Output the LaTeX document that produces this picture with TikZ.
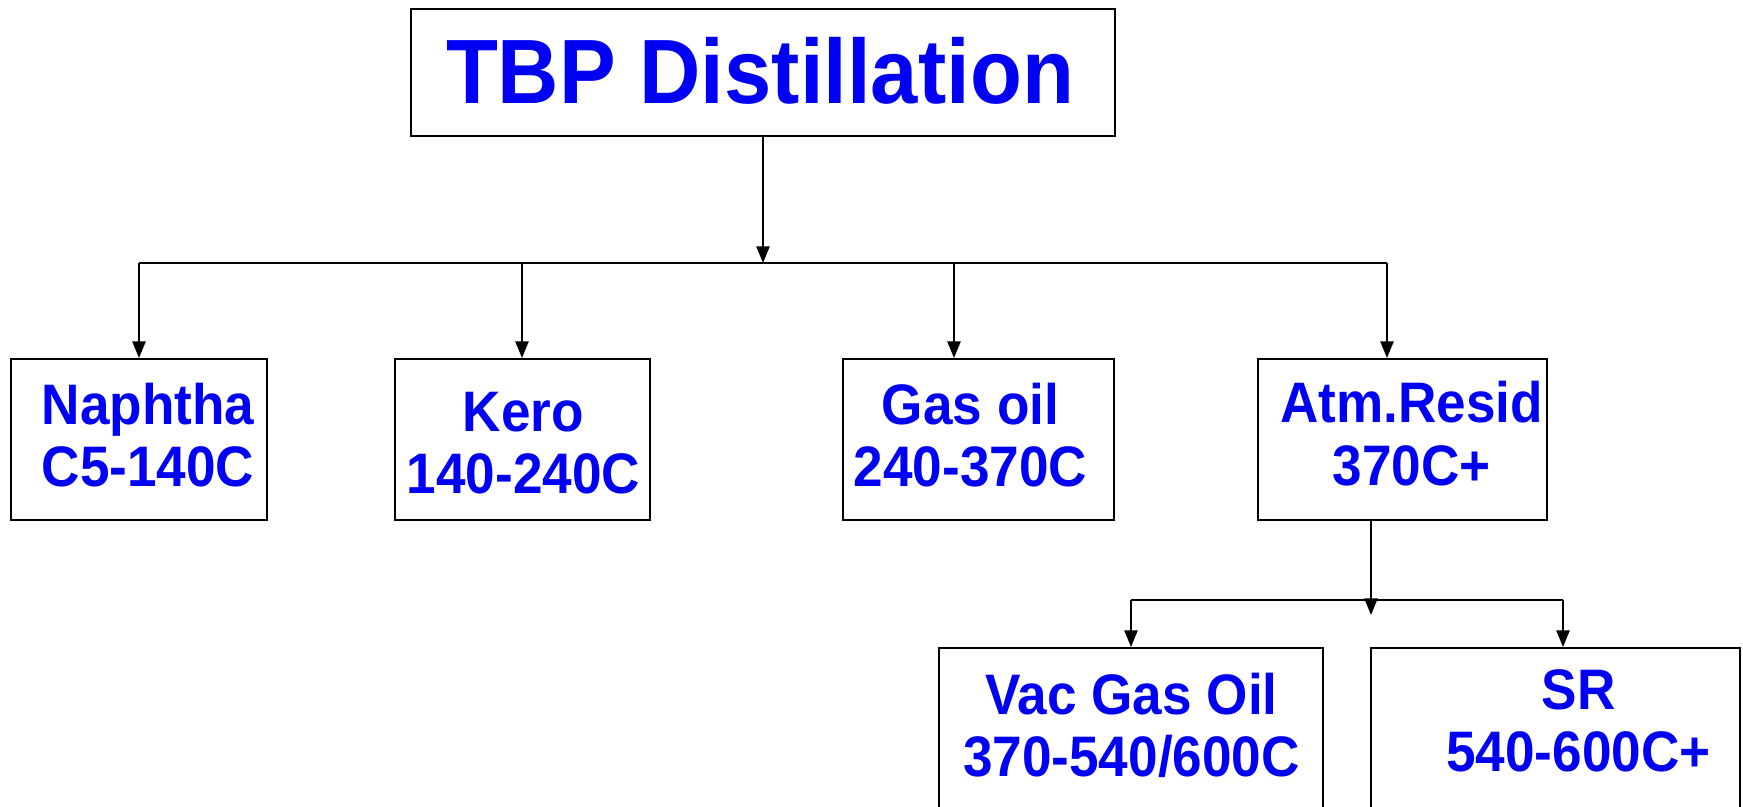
\documentclass[tikz,border=0pt]{standalone}
\usepackage{fontspec}
\setmainfont{Liberation Sans}
\newfontfamily\tbpfont[FakeStretch=0.93]{Liberation Sans}
\usepackage{tikz}
\usetikzlibrary{arrows.meta,positioning}
\definecolor{tbpblue}{RGB}{0,0,245}

\begin{document}
\begin{tikzpicture}[
  box/.style={draw,line width=1.1pt,inner sep=0pt},
  title/.style={text=tbpblue,font=\tbpfont\bfseries\fontsize{52}{60}\selectfont},
  cut/.style={text=tbpblue,align=center,font=\tbpfont\bfseries\fontsize{32.5}{35.5}\selectfont},
  link/.style={line width=1.1pt},
  arr/.style={-{Triangle[length=9.5pt,width=7.5pt]},line width=1.1pt},
]
\clip (0,0) rectangle (34.86,-16.14);

% 原油
\node[box,minimum width=14.08cm,minimum height=2.54cm] (tbp) at (15.26,-1.45) {};
\node[title] (tbptxt) at (15.2,-1.42) {TBP Distillation};

% 常压馏分
\node[box,minimum width=5.12cm,minimum height=3.22cm] (naph) at (2.78,-8.79) {};
\node[box,minimum width=5.10cm,minimum height=3.22cm] (kero) at (10.45,-8.79) {};
\node[box,minimum width=5.42cm,minimum height=3.22cm] (gas) at (19.57,-8.79) {};
\node[box,minimum width=5.78cm,minimum height=3.22cm] (atm) at (28.05,-8.79) {};
\node[cut] (naphtxt) at (2.96,-8.70) {Naphtha\\C5-140C};
\node[cut] (kerotxt) at (10.47,-8.86) {Kero\\140-240C};
\node[cut] (gastxt) at (19.41,-8.70) {Gas oil\\240-370C};
\node[cut] (atmtxt) at (28.23,-8.67) {Atm.Resid\\370C+};

% 减压馏分
\node[box,minimum width=7.68cm,minimum height=4cm] (vac) at (22.62,-14.96) {};
\node[box,minimum width=7.38cm,minimum height=4cm] (sr) at (31.11,-14.96) {};
\node[cut] (vactxt) at (22.63,-14.51) {Vac Gas Oil\\370-540/600C};
\node[cut] (srtxt) at (31.57,-14.42) {SR\\540-600C+};

% 箭头
\coordinate (bus) at (15.26,-5.26);
\coordinate (b1) at (2.78,-5.26);
\coordinate (b2) at (10.44,-5.26);
\coordinate (b3) at (19.08,-5.26);
\coordinate (b4) at (27.74,-5.26);
\draw[arr] (tbp.south) -- (bus);
\draw[link] (b1) -- (b4);
\draw[arr] (b1) -- (b1 |- naph.north);
\draw[arr] (b2) -- (b2 |- kero.north);
\draw[arr] (b3) -- (b3 |- gas.north);
\draw[arr] (b4) -- (b4 |- atm.north);

\coordinate (r1) at (27.42,-12.3);
\coordinate (v1) at (22.62,-12.0);
\coordinate (v2) at (31.26,-12.0);
\draw[arr] (r1 |- atm.south) -- (r1);
\draw[link] (v1) -- (v2);
\draw[arr] (v1) -- (v1 |- vac.north);
\draw[arr] (v2) -- (v2 |- sr.north);

\end{tikzpicture}
\end{document}
